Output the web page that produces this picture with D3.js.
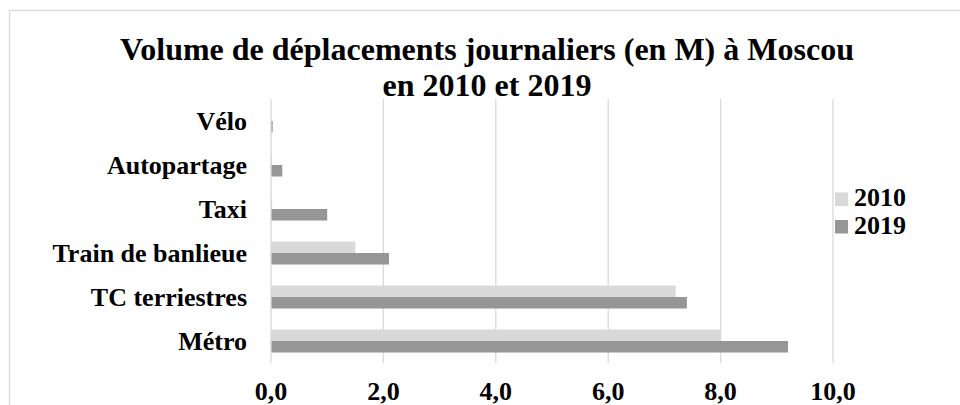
<!DOCTYPE html>
<html>
<head>
<meta charset="utf-8">
<script src="https://cdn.jsdelivr.net/npm/d3@7"></script>
<style>
  body { margin: 0; background: #fff; }
  svg { display: block; }
</style>
</head>
<body>
<svg id="chart" width="960" height="405"></svg>
<script>
const categories = ["Vélo", "Autopartage", "Taxi", "Train de banlieue", "TC terriestres", "Métro"];
const series = ["2010", "2019"];
const values2010 = [0, 0.02, 0.02, 1.5, 7.2, 8.0];
const values2019 = [0.03, 0.2, 1.0, 2.1, 7.4, 9.2];
const xTicks = [0, 2, 4, 6, 8, 10];
const titleLines = ["Volume de déplacements journaliers (en M) à Moscou", "en 2010 et 2019"];

const colors = { "2010": "#d9d9d9", "2019": "#969696" };
const grid = "#d9d9d9";
const font = "Liberation Serif";
const plot = { left: 271, right: 833, top: 99, bottom: 363 };

const svg = d3.select("#chart");

// outer frame (right/bottom edges fall outside the picture)
svg.append("rect")
  .attr("x", 9.5).attr("y", 10.5)
  .attr("width", 980).attr("height", 420)
  .attr("fill", "none").attr("stroke", grid).attr("stroke-width", 1.3);

const xScale = d3.scaleLinear().domain([0, 10]).range([plot.left, plot.right]);
const yScale = d3.scaleBand().domain(categories)
  .range([plot.top, plot.bottom]).paddingInner(0.477).paddingOuter(0.2385);
const ySub = d3.scaleBand().domain(series).range([0, yScale.bandwidth()]);

// gridlines
svg.append("g").selectAll("line")
  .data(xTicks.slice(1))
  .enter().append("line")
  .attr("x1", d => xScale(d)).attr("x2", d => xScale(d))
  .attr("y1", plot.top).attr("y2", plot.bottom)
  .attr("stroke", grid).attr("stroke-width", 1.3);

const rows = categories.map((c, i) => ({ cat: c, "2010": values2010[i], "2019": values2019[i] }));

svg.append("g").selectAll("g")
  .data(rows)
  .enter().append("g")
  .attr("transform", d => `translate(0,${yScale(d.cat)})`)
  .selectAll("rect")
  .data(d => series.map(s => ({ s, v: d[s] })))
  .enter().append("rect")
  .attr("x", xScale(0))
  .attr("y", d => ySub(d.s))
  .attr("width", d => xScale(d.v) - xScale(0))
  .attr("height", ySub.bandwidth())
  .attr("fill", d => colors[d.s]);

// vertical axis line
svg.append("line")
  .attr("x1", xScale(0)).attr("x2", xScale(0))
  .attr("y1", plot.top).attr("y2", plot.bottom)
  .attr("stroke", grid).attr("stroke-width", 1.3);

// every text gets the family directly
const label = (sel) => sel
  .attr("font-family", font)
  .attr("font-weight", "bold")
  .attr("fill", "#000");

// category labels
svg.append("g").selectAll("text")
  .data(categories)
  .enter().append("text")
  .call(label)
  .attr("x", 247)
  .attr("y", d => yScale(d) + yScale.bandwidth() / 2)
  .attr("dy", "0.35em")
  .attr("text-anchor", "end")
  .attr("font-size", 26)
  .text(d => d);

// x tick labels
const fmt = d => d3.format(".1f")(d).replace(".", ",");
svg.append("g").selectAll("text")
  .data(xTicks)
  .enter().append("text")
  .call(label)
  .attr("x", d => xScale(d))
  .attr("y", 400)
  .attr("text-anchor", "middle")
  .attr("font-size", 26)
  .text(fmt);

// title
svg.append("g").selectAll("text")
  .data(titleLines)
  .enter().append("text")
  .call(label)
  .attr("x", 487)
  .attr("y", (d, i) => 60 + i * 36)
  .attr("text-anchor", "middle")
  .attr("font-size", 32)
  .text(d => d);

// legend
const legend = svg.append("g").selectAll("g")
  .data(series)
  .enter().append("g")
  .attr("transform", (d, i) => `translate(835,${206 + i * 27.5})`);
legend.append("rect")
  .attr("x", 0).attr("y", -13.5)
  .attr("width", 13).attr("height", 13.5)
  .attr("fill", d => colors[d]);
legend.append("text")
  .call(label)
  .attr("x", 19).attr("y", 0)
  .attr("font-size", 26)
  .text(d => d);
</script>
</body>
</html>
